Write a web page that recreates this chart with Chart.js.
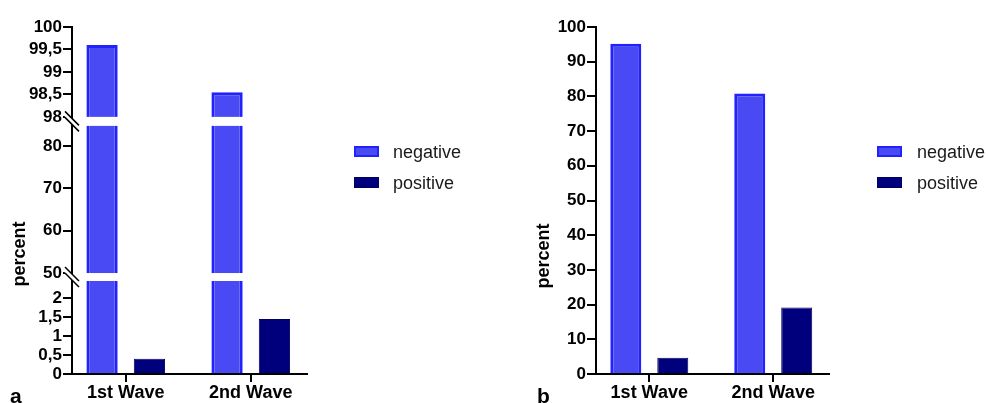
<!DOCTYPE html>
<html>
<head>
<meta charset="utf-8">
<script src="https://cdn.jsdelivr.net/npm/chart.js@4.4.0/dist/chart.umd.min.js"></script>
<style>
  body { margin: 0; background: #fff; width: 988px; height: 403px; overflow: hidden; position: relative;
         font-family: "Liberation Sans", Arial, sans-serif; color: #000; }
  canvas { position: absolute; top: 0; }
  #chartA { left: 0; }
  #chartB { left: 494px; }
  .ytitle { position: absolute; font-weight: bold; font-size: 18px; line-height: 18px; white-space: nowrap;
            transform: translate(-50%, -50%) rotate(-90deg); }
  .panel { position: absolute; font-weight: bold; font-size: 21px; line-height: 21px; }
  .box { position: absolute; width: 25px; height: 11px; box-sizing: border-box; }
  .box.neg { background: #4a4af4; border: 2px solid #2222ff; }
  .box.pos { background: #00007c; border: 1px solid #000060; }
  .ltext { position: absolute; font-size: 18px; line-height: 20px; color: #1a1a1a; }
</style>
</head>
<body>
<canvas id="chartA" width="494" height="403"></canvas>
<canvas id="chartB" width="494" height="403"></canvas>

<div class="ytitle" style="left:19px; top:254px;">percent</div>
<div class="ytitle" style="left:543px; top:256px;">percent</div>
<div class="panel" style="left:10px; top:385px;">a</div>
<div class="panel" style="left:537px; top:385px;">b</div>

<div class="box neg" style="left:354px; top:146px;"></div>
<div class="ltext" style="left:393px; top:142px;">negative</div>
<div class="box pos" style="left:354px; top:177px;"></div>
<div class="ltext" style="left:393px; top:173px;">positive</div>

<div class="box neg" style="left:877px; top:146px;"></div>
<div class="ltext" style="left:917px; top:142px;">negative</div>
<div class="box pos" style="left:877px; top:177px;"></div>
<div class="ltext" style="left:917px; top:173px;">positive</div>

<script>
const categories = ['1st Wave', '2nd Wave'];
const negativeA = [99.6, 98.55];
const positiveA = [0.4, 1.45];
const negativeB = [95.2, 80.8];
const positiveB = [4.7, 19.2];
const ticksA = [0, 0.5, 1, 1.5, 2, 50, 60, 70, 80, 98, 98.5, 99, 99.5, 100];
const ticksB = [0, 10, 20, 30, 40, 50, 60, 70, 80, 90, 100];

// broken axis of panel a: [value, share of axis height]
const breakPoints = [[0, 0], [2.45, 0.268], [50, 0.291], [84.7, 0.715], [98, 0.741], [100, 1]];
const gapsA = [[2.45, 50], [84.7, 98]];

function interp(v, from, to) {
  const p = breakPoints;
  let i = 1;
  while (i < p.length - 1 && v > p[i][from]) i++;
  const a = p[i - 1], b = p[i];
  return a[to] + (v - a[from]) / (b[from] - a[from]) * (b[to] - a[to]);
}

class BrokenScale extends Chart.LinearScale {
  getPixelForValue(value) {
    return this.getPixelForDecimal(interp(value, 0, 1));
  }
  getValueForPixel(pixel) {
    return interp(this.getDecimalForPixel(pixel), 1, 0);
  }
}
BrokenScale.id = 'broken';
BrokenScale.defaults = Chart.LinearScale.defaults;
Chart.register(BrokenScale);

Chart.defaults.font.family = '"Liberation Sans", Arial, sans-serif';
Chart.defaults.color = '#000';

const breakPlugin = {
  id: 'axisBreaks',
  afterDatasetsDraw(chart) {
    const { ctx, chartArea } = chart;
    const y = chart.scales.y;
    const line = (x1, y1, x2, y2) => { ctx.beginPath(); ctx.moveTo(x1, y1); ctx.lineTo(x2, y2); ctx.stroke(); };
    ctx.save();
    gapsA.forEach(([lo, hi]) => {
      const top = y.getPixelForValue(hi), bottom = y.getPixelForValue(lo);
      ctx.fillStyle = '#fff';
      ctx.fillRect(chartArea.left + 1, top, chartArea.right - chartArea.left, bottom - top);
      const x = chartArea.left, yc = (top + bottom) / 2;
      ctx.strokeStyle = '#fff';
      ctx.lineWidth = 4;
      line(x - 6, yc - 6, x + 6, yc + 6);
      ctx.strokeStyle = '#000';
      ctx.lineWidth = 1.5;
      line(x - 7, yc - 10, x + 7, yc + 4);
      line(x - 7, yc - 4, x + 7, yc + 10);
    });
    ctx.restore();
  }
};

function makeDatasets(neg, pos) {
  return [
    { label: 'negative', data: neg.map((v, i) => ({ x: i, y: v })),
      backgroundColor: '#4a4af4', borderColor: '#2222ff', borderWidth: 3 },
    { label: 'positive', data: pos.map((v, i) => ({ x: i, y: v })),
      backgroundColor: '#00007c', borderColor: '#000060', borderWidth: 1 }
  ];
}

function makeChart(id, neg, pos, yType, yTicks, yWidth, rightPad, plugins) {
  return new Chart(document.getElementById(id), {
    type: 'bar',
    data: { datasets: makeDatasets(neg, pos) },
    plugins: plugins,
    options: {
      responsive: false,
      animation: false,
      devicePixelRatio: 1,
      categoryPercentage: 0.758,
      barPercentage: 0.66,
      layout: { padding: { left: 0, top: 27, right: rightPad, bottom: 0 } },
      plugins: { legend: { display: false }, tooltip: { enabled: false } },
      scales: {
        x: {
          type: 'linear',
          min: -0.43,
          max: 1.45,
          offset: false,
          afterBuildTicks: s => { s.ticks = categories.map((c, i) => ({ value: i })); },
          afterFit: s => { s.height = 29; },
          grid: { offset: false, drawOnChartArea: false, drawTicks: true, tickLength: 8, color: '#000', lineWidth: 2 },
          border: { color: '#000', width: 2 },
          ticks: { autoSkip: false, maxRotation: 0, padding: 0, font: { size: 18, weight: 'bold' },
                   callback: v => categories[v] }
        },
        y: {
          type: yType,
          min: 0,
          max: 100,
          afterBuildTicks: s => { s.ticks = yTicks.map(v => ({ value: v })); },
          afterFit: s => { s.width = yWidth; },
          grid: { drawOnChartArea: false, drawTicks: true, tickLength: 9, color: '#000', lineWidth: 2 },
          border: { color: '#000', width: 2 },
          ticks: { autoSkip: false, padding: 1, font: { size: 17, weight: 'bold' },
                   callback: v => String(v).replace('.', ',') }
        }
      }
    }
  });
}

makeChart('chartA', negativeA, positiveA, 'broken', ticksA, 72, 187, [breakPlugin]);
makeChart('chartB', negativeB, positiveB, 'linear', ticksB, 102, 159, []);
</script>
</body>
</html>
